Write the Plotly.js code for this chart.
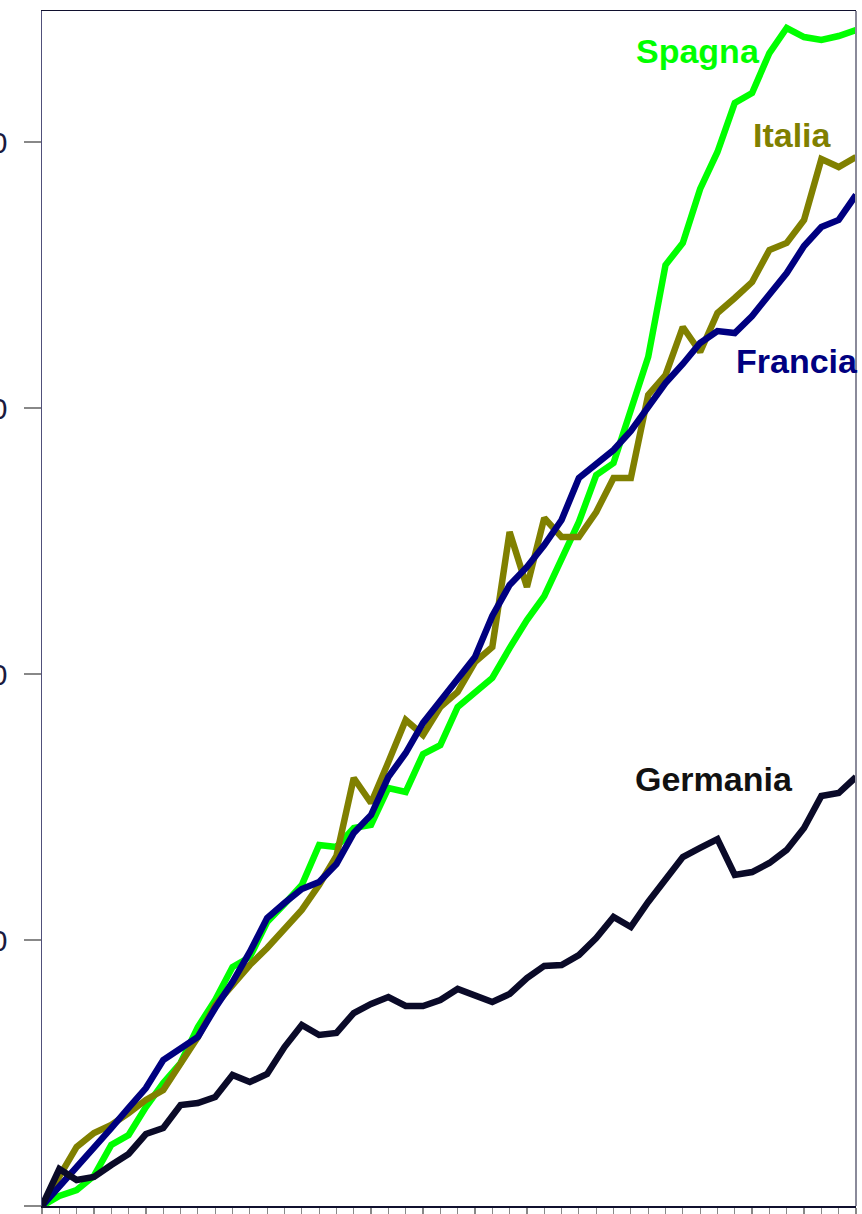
<!DOCTYPE html>
<html>
<head>
<meta charset="utf-8">
<script src="https://cdn.plot.ly/plotly-3.0.1.min.js"></script>
<style>html,body{margin:0;padding:0;background:#fff;}#chart{width:862px;height:1214px;}</style>
</head>
<body>
<div id="chart"></div>
<script>
// Periods (index of each observation)
const periods = Array.from({length: 48}, (_, i) => i);

const spagna = [0,0.75,1.20,2.26,4.59,5.34,7.44,9.25,10.75,13.46,15.49,17.97,18.72,21.35,22.71,24.14,27.14,26.99,28.42,28.65,31.43,31.13,33.98,34.66,37.52,38.65,39.70,41.95,44.06,45.86,48.72,51.43,54.96,55.86,59.85,63.83,70.75,72.41,76.47,79.25,82.93,83.68,86.69,88.57,87.89,87.67,87.97,88.42];
const italia = [0,2.26,4.44,5.49,6.09,6.99,7.97,8.72,10.75,12.71,15.11,16.62,18.12,19.40,20.75,22.26,24.14,26.32,32.18,30.30,33.38,36.54,35.41,37.52,38.65,40.90,42.03,50.68,46.54,51.73,50.30,50.30,52.18,54.74,54.74,60.98,62.48,66.09,64.21,67.14,68.27,69.47,71.88,72.41,74.14,78.72,78.12,78.87];
const francia = [0,1.43,2.93,4.36,5.86,7.37,8.87,10.98,11.80,12.71,14.89,16.84,19.10,21.65,22.78,23.83,24.36,25.71,28.05,29.40,32.26,34.06,36.32,37.89,39.62,41.28,44.36,46.69,48.05,49.70,51.58,54.74,55.79,56.84,58.27,60.00,61.88,63.31,64.89,65.79,65.64,66.92,68.57,70.15,72.18,73.61,74.14,76.02];
const germania = [0,2.78,1.95,2.18,3.08,3.91,5.41,5.86,7.59,7.74,8.20,9.85,9.32,9.92,11.95,13.61,12.86,13.01,14.51,15.19,15.71,15.04,15.04,15.49,16.32,15.79,15.34,15.94,17.14,18.05,18.12,18.87,20.15,21.73,20.98,22.86,24.51,26.24,26.92,27.59,24.89,25.11,25.79,26.77,28.42,30.83,31.05,32.26];

const seriesNames = ["Spagna", "Italia", "Francia", "Germania"];
const seriesData = [spagna, italia, francia, germania];
const seriesColors = ["#00ff00", "#808000", "#000080", "#0a0a28"];

const yTickVals = [0, 20, 40, 60, 80];
const yTickText = ["0", "20", "40", "60", "80"];

const traces = seriesData.map((d, k) => ({
  x: periods, y: d, type: "scatter", mode: "lines", name: seriesNames[k],
  line: {color: seriesColors[k], width: 6.5},
  hoverinfo: "skip"
}));

const labelFont = (c) => ({family: "Liberation Sans, Arial, sans-serif", size: 34, color: c});

const layout = {
  width: 862, height: 1214,
  margin: {l: 42, r: 6, t: 11, b: 8, pad: 0},
  paper_bgcolor: "#ffffff", plot_bgcolor: "#ffffff",
  showlegend: false,
  xaxis: {
    range: [0, 47], dtick: 1, tick0: 0, showgrid: false, zeroline: false,
    showline: true, linecolor: "#10102e", linewidth: 1.5, mirror: true,
    ticks: "outside", ticklen: 10, tickcolor: "#888888", tickwidth: 1.2,
    showticklabels: false
  },
  yaxis: {
    range: [0, 89.85], tickvals: yTickVals, ticktext: yTickText,
    showgrid: false, zeroline: false,
    showline: true, linecolor: "#50507a", linewidth: 1.5,
    ticks: "outside", ticklen: 17, tickcolor: "#888888", tickwidth: 1.2,
    tickfont: {family: "Liberation Sans, Arial, sans-serif", size: 30, color: "#1a1a40"},
    ticklabelstandoff: 10
  },
  shapes: [
    {type: "line", xref: "paper", yref: "paper", x0: 1, x1: 1, y0: 0, y1: 1,
     line: {color: "#8a8a9a", width: 2}}
  ],
  annotations: [
    {text: "<b>Spagna</b>", x: 0.806, y: 0.9665, xref: "paper", yref: "paper", xanchor: "center", yanchor: "middle", showarrow: false, font: labelFont("#00ff00")},
    {text: "<b>Italia</b>", x: 0.9226, y: 0.896, xref: "paper", yref: "paper", xanchor: "center", yanchor: "middle", showarrow: false, font: labelFont("#808000")},
    {text: "<b>Francia</b>", x: 0.9275, y: 0.707, xref: "paper", yref: "paper", xanchor: "center", yanchor: "middle", showarrow: false, font: labelFont("#000080")},
    {text: "<b>Germania</b>", x: 0.826, y: 0.357, xref: "paper", yref: "paper", xanchor: "center", yanchor: "middle", showarrow: false, font: labelFont("#111111")}
  ]
};

Plotly.newPlot("chart", traces, layout, {staticPlot: true, displayModeBar: false});
</script>
</body>
</html>
